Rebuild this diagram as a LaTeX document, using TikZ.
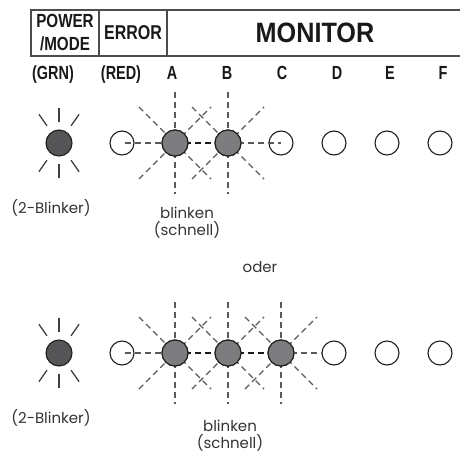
\documentclass[tikz,border=0pt]{standalone}
\usepackage{fontspec}
\setmainfont{Poppins}
\newfontfamily\hdrfont{Liberation Sans}[FakeStretch=0.8]
\newfontfamily\monfont{Liberation Sans}[FakeStretch=0.9]
\newfontfamily\colfont{Liberation Sans}[FakeStretch=0.76]
\usetikzlibrary{positioning, backgrounds}
\definecolor{ledgray}{RGB}{125,125,128}
\definecolor{leddark}{RGB}{85,85,88}
\definecolor{rimcol}{RGB}{30,30,30}
\definecolor{dashgray}{RGB}{90,90,90}

\begin{document}
\begin{tikzpicture}[
    x=1pt, y=-1pt,
    hdrcell/.style  = {draw=black!70, line width=1.2pt, outer sep=0pt, inner sep=0pt,
                       minimum height=46pt, align=center, text=black!90},
    collabel/.style = {anchor=base, inner sep=0pt, text=black!90,
                       font=\colfont\bfseries\fontsize{19}{19}\selectfont},
    ledoff/.style   = {circle, draw=rimcol, line width=1.1pt, inner sep=0pt, minimum size=24pt},
    ledon/.style    = {ledoff, fill=ledgray, minimum size=26pt},
    ledgrn/.style   = {ledoff, fill=leddark, minimum size=26pt},
    ray/.style      = {line width=1.3pt, black!75},
    blinkray/.style = {line width=1.3pt, dashgray, dash pattern=on 6pt off 4pt},
    blinkmid/.style = {blinkray, black!90},
    caption/.style  = {anchor=base, inner sep=0pt, text=black!80,
                       font=\fontsize{15}{17}\selectfont},
]
\useasboundingbox (0,0) rectangle (460,452);

% Header
\node[hdrcell, minimum width=68pt, font=\hdrfont\bfseries\fontsize{19}{23}\selectfont]
    (pwr) at (65,33) {POWER\\/MODE};
\node[hdrcell, minimum width=68pt, right=0pt of pwr,
      font=\hdrfont\bfseries\fontsize{20}{20}\selectfont] (err) {ERROR};
\node[hdrcell, minimum width=296pt, right=0pt of err,
      font=\monfont\bfseries\fontsize{28}{28}\selectfont] (mon) {MONITOR};

% Column labels
\node[collabel] (lblgrn) at (53,79) {(GRN)};
\node[collabel] (lblred) at (121,79) {(RED)};
\foreach \c/\x in {A/172,B/227,C/282,D/337,E/390,F/443}{
  \node[collabel] (lbl\c) at (\x,79) {\c};
}

% LEDs, first case
\node[ledgrn] (grn1) at (59,143) {};
\foreach \n/\x/\s in {err/122/ledoff, A/175/ledon, B/228/ledon, C/281/ledoff,
                      D/334/ledoff, E/387/ledoff, F/440/ledoff}{
  \node[\s] (\n1) at (\x,143) {};
}

% LEDs, second case
\node[ledgrn] (grn2) at (59,353) {};
\foreach \n/\x/\s in {err/122/ledoff, A/175/ledon, B/228/ledon, C/281/ledon,
                      D/334/ledoff, E/387/ledoff, F/440/ledoff}{
  \node[\s] (\n2) at (\x,353) {};
}

% Rays
\begin{scope}[on background layer]
  \foreach \g in {grn1,grn2}{
    \foreach \a in {55,90,125,235,270,305}{
      \draw[ray] ([shift={(\a:21)}]\g.center) -- ([shift={(\a:35)}]\g.center);
    }
  }
  \foreach \n in {A1,B1,A2,B2,C2}{
    \draw[blinkray] ([shift={(0,-51)}]\n.center) -- ([shift={(0,51)}]\n.center);
    \draw[blinkray] ([shift={(-36,-36)}]\n.center) -- ([shift={(36,36)}]\n.center);
    \draw[blinkray] ([shift={(-36,36)}]\n.center) -- ([shift={(36,-36)}]\n.center);
  }
\end{scope}

% Running light
\draw[blinkray] ([xshift=3pt]err1.center) -- (A1.center);
\draw[blinkmid] (A1.center) -- (B1.center);
\draw[blinkray] (B1.center) -- (C1.center);
\draw[blinkray] ([xshift=3pt]err2.center) -- (A2.center);
\draw[blinkmid] (A2.center) -- (B2.center);
\draw[blinkmid] (B2.center) -- (C2.center);
\draw[blinkray] (C2.center) -- (D2.west);
\foreach \n in {A1,B1,A2,B2,C2}{
  \node[ledon] at (\n) {};
}

% Captions
\node[caption] (blk1) at (51,213) {(2-Blinker)};
\node[caption] (fast1) at (187,218) {blinken};
\node[caption] (fast1b) at (187,235) {(schnell)};
\node[caption] (oder) at (260,272) {oder};
\node[caption] (blk2) at (51,423) {(2-Blinker)};
\node[caption] (fast2) at (230,431) {blinken};
\node[caption] (fast2b) at (230,448) {(schnell)};

\end{tikzpicture}
\end{document}
